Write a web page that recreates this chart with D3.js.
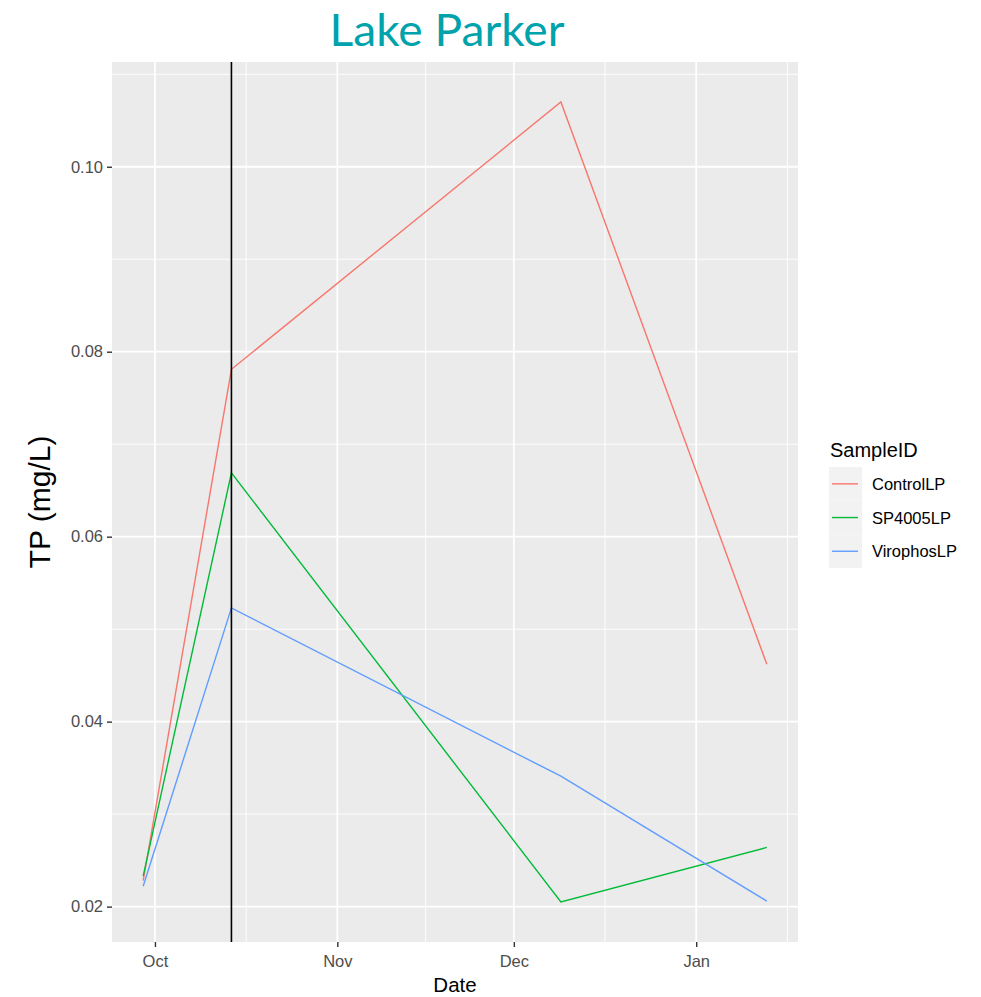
<!DOCTYPE html>
<html>
<head>
<meta charset="utf-8">
<script src="https://cdn.jsdelivr.net/npm/d3@7/dist/d3.min.js"></script>
<style>
  html, body { margin: 0; padding: 0; background: #fff; }
  svg { display: block; }
</style>
</head>
<body>
<script>
// ---- data ----
const dates = ["2019-09-29", "2019-10-14", "2019-12-09", "2020-01-13"];
const seriesNames = ["ControlLP", "SP4005LP", "VirophosLP"];
const controlLP = [0.0228, 0.0781, 0.1070, 0.0462];
const sp4005LP = [0.0233, 0.0669, 0.0205, 0.0264];
const virophosLP = [0.0222, 0.0523, 0.0341, 0.0206];
const vlineDate = "2019-10-14";
const yTicks = [0.02, 0.04, 0.06, 0.08, 0.10];
const yMinor = [0.03, 0.05, 0.07, 0.09, 0.11];
const xTickDates = ["2019-10-01", "2019-11-01", "2019-12-01", "2020-01-01"];
const xTickLabels = ["Oct", "Nov", "Dec", "Jan"];
const colors = ["#F8766D", "#00BA38", "#619CFF"];
const titleText = "Lake Parker";

const parse = d3.timeParse("%Y-%m-%d");
const W = 981, H = 997;
const P = { left: 112, right: 798, top: 62, bottom: 942 };

const svg = d3.select("body").append("svg").attr("width", W).attr("height", H);

const allSeries = [controlLP, sp4005LP, virophosLP];
const dParsed = dates.map(parse);
const xExt = d3.extent(dParsed);
const xSpan = xExt[1] - xExt[0];
const x = d3.scaleTime()
  .domain([new Date(+xExt[0] - 0.05 * xSpan), new Date(+xExt[1] + 0.05 * xSpan)])
  .range([P.left, P.right]);
const yExt = d3.extent(allSeries.flat());
const ySpan = yExt[1] - yExt[0];
const y = d3.scaleLinear()
  .domain([yExt[0] - 0.05 * ySpan, yExt[1] + 0.05 * ySpan])
  .range([P.bottom, P.top]);

// panel
svg.append("rect").attr("x", P.left).attr("y", P.top)
  .attr("width", P.right - P.left).attr("height", P.bottom - P.top)
  .attr("fill", "#EBEBEB");

const grid = svg.append("g");
// minor y
yMinor.filter(v => v >= y.domain()[0] && v <= y.domain()[1]).forEach(v => {
  grid.append("line").attr("x1", P.left).attr("x2", P.right)
    .attr("y1", y(v)).attr("y2", y(v)).attr("stroke", "#fff").attr("stroke-width", 0.9);
});
// minor x: midpoints between monthly breaks (extended)
const xt = xTickDates.map(parse);
const xMinor = [];
const step0 = xt[1] - xt[0];
xMinor.push(new Date(+xt[0] - step0 / 2));
for (let i = 0; i < xt.length - 1; i++) xMinor.push(new Date((+xt[i] + +xt[i + 1]) / 2));
xMinor.push(new Date(+xt[xt.length - 1] + (xt[xt.length - 1] - xt[xt.length - 2]) / 2));
xMinor.filter(d => d >= x.domain()[0] && d <= x.domain()[1]).forEach(d => {
  grid.append("line").attr("y1", P.top).attr("y2", P.bottom)
    .attr("x1", x(d)).attr("x2", x(d)).attr("stroke", "#fff").attr("stroke-width", 0.9);
});
// major
yTicks.forEach(v => {
  grid.append("line").attr("x1", P.left).attr("x2", P.right)
    .attr("y1", y(v)).attr("y2", y(v)).attr("stroke", "#fff").attr("stroke-width", 1.8);
});
xt.forEach(d => {
  grid.append("line").attr("y1", P.top).attr("y2", P.bottom)
    .attr("x1", x(d)).attr("x2", x(d)).attr("stroke", "#fff").attr("stroke-width", 1.8);
});

// lines
const line = d3.line().x((d, i) => x(dParsed[i])).y(d => y(d));
allSeries.forEach((s, i) => {
  svg.append("path").datum(s).attr("d", line).attr("fill", "none")
    .attr("stroke", colors[i]).attr("stroke-width", 1.4);
});

// vertical line
svg.append("line").attr("x1", x(parse(vlineDate))).attr("x2", x(parse(vlineDate)))
  .attr("y1", P.top).attr("y2", P.bottom).attr("stroke", "#000").attr("stroke-width", 1.6);

// axes
const yAxis = d3.axisLeft(y).tickValues(yTicks).tickFormat(d3.format(".2f")).tickSize(5).tickPadding(4);
const gy = svg.append("g").attr("transform", `translate(${P.left},0)`).call(yAxis);
gy.select(".domain").remove();
gy.selectAll(".tick line").attr("stroke", "#333").attr("stroke-width", 1.4);
gy.selectAll(".tick text").attr("fill", "#4D4D4D").style("font-family", "Liberation Sans, Arial, sans-serif").style("font-size", "16.5px");

const xAxis = d3.axisBottom(x).tickValues(xt).tickFormat((d, i) => xTickLabels[i]).tickSize(5).tickPadding(8);
const gx = svg.append("g").attr("transform", `translate(0,${P.bottom})`).call(xAxis);
gx.select(".domain").remove();
gx.selectAll(".tick line").attr("stroke", "#333").attr("stroke-width", 1.4);
gx.selectAll(".tick text").attr("fill", "#4D4D4D").style("font-family", "Liberation Sans, Arial, sans-serif").style("font-size", "16.5px");

// axis titles
svg.append("text").attr("x", (P.left + P.right) / 2).attr("y", 992)
  .attr("text-anchor", "middle").attr("fill", "#000")
  .style("font-family", "Liberation Sans, Arial, sans-serif").style("font-size", "20.5px").text("Date");
svg.append("text").attr("transform", `translate(50,${(P.top + P.bottom) / 2}) rotate(-90)`)
  .attr("text-anchor", "middle").attr("fill", "#000")
  .style("font-family", "Liberation Sans, Arial, sans-serif").style("font-size", "30px").text("TP (mg/L)");

// title
svg.append("text").attr("x", 447).attr("y", 45.5)
  .attr("text-anchor", "middle").attr("fill", "#00A2AC")
  .attr("textLength", 235).attr("lengthAdjust", "spacingAndGlyphs")
  .style("font-family", "Lato, Open Sans, sans-serif").style("font-size", "45px").text(titleText);

// legend
const lg = svg.append("g");
lg.append("text").attr("x", 830).attr("y", 457).attr("fill", "#000")
  .style("font-family", "Liberation Sans, Arial, sans-serif").style("font-size", "20px").text("SampleID");
const keyH = 33.7, keyTop = 467;
seriesNames.forEach((n, i) => {
  const ky = keyTop + i * keyH;
  lg.append("rect").attr("x", 829).attr("y", ky).attr("width", 33).attr("height", keyH).attr("fill", "#F2F2F2");
  lg.append("line").attr("x1", 832).attr("x2", 858).attr("y1", ky + keyH / 2).attr("y2", ky + keyH / 2)
    .attr("stroke", colors[i]).attr("stroke-width", 1.4);
  lg.append("text").attr("x", 872).attr("y", ky + keyH / 2 + 6).attr("fill", "#000")
    .style("font-family", "Liberation Sans, Arial, sans-serif").style("font-size", "16.5px").text(n);
});
</script>
</body>
</html>
